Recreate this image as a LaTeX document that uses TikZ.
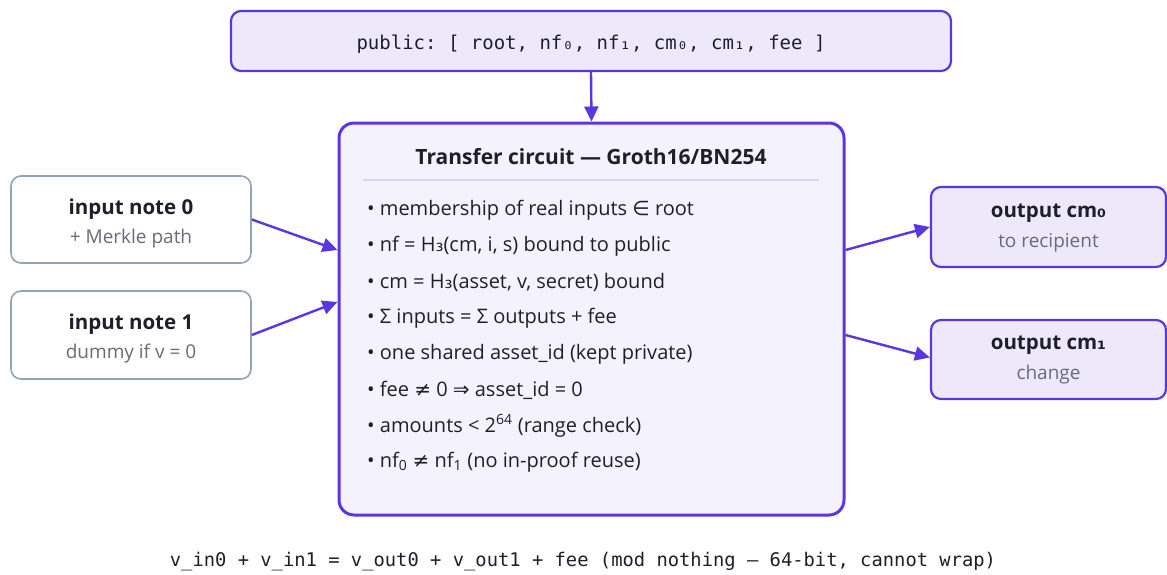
\documentclass[tikz,border=0pt]{standalone}
\usepackage{fontspec}
\setmainfont{Open Sans}
\setmonofont{DejaVu Sans Mono}
\newfontfamily\symfont{DejaVu Sans}
\usetikzlibrary{arrows.meta}
\definecolor{accent}{HTML}{5B35E0}
\definecolor{lav}{HTML}{EDE9FB}
\definecolor{pale}{HTML}{F4F2FD}
\definecolor{ink}{HTML}{1F1F2B}
\definecolor{muted}{HTML}{6B6B78}
\definecolor{slate}{HTML}{94A3B8}
\definecolor{sep}{HTML}{DAD5F5}
\newcommand{\lowsub}[1]{{\symfont #1}}
\tikzset{
  box/.style={rectangle, rounded corners=10pt, line width=2.2pt, draw=accent, fill=lav, inner sep=0pt},
  inbox/.style={rectangle, rounded corners=10pt, line width=1.6pt, draw=slate, fill=white, inner sep=0pt},
  bigbox/.style={rectangle, rounded corners=15pt, line width=3pt, draw=accent, fill=pale, inner sep=0pt},
  flow/.style={-{Triangle[length=15pt,width=14pt]}, line width=2.4pt, draw=accent},
  head/.style={font=\fontsize{20.5}{24}\selectfont\bfseries, text=ink, inner sep=0pt},
  ttl/.style={font=\fontsize{21}{24}\selectfont\bfseries, text=ink, inner sep=0pt},
  sub/.style={font=\fontsize{19}{22}\selectfont, text=muted, inner sep=0pt},
  item/.style={font=\fontsize{20}{23}\selectfont, text=ink, anchor=west, inner sep=0pt},
  code/.style={font=\ttfamily\fontsize{19}{22}\selectfont, text=ink, inner sep=0pt},
}
\begin{document}
\begin{tikzpicture}[x=1pt, y=-1pt]
\useasboundingbox (0,0) rectangle (1167,574);

% public inputs
\node[box, minimum width=720pt, minimum height=60pt] (pub) at (591,41) {};
\node[code] (pubtxt) at (591,44) {public: [ root, nf₀, nf₁, cm₀, cm₁, fee ]};

% the circuit
\node[bigbox, minimum width=505pt, minimum height=392pt] (circ) at (591.5,319) {};
\node[ttl] (title) at (591,157) {Transfer circuit — Groth16/BN254};
\coordinate (sepL) at (363,180);
\coordinate (sepR) at (819,180);
\draw[sep, line width=1.5pt] (sepL) -- (sepR);

\node[item] (c1) at (367,210) {• membership of real inputs {\symfont ∈} root};
\node[item] (c2) at (367,246) {• nf = H\lowsub{₃}(cm, i, s) bound to public};
\node[item] (c3) at (367,282) {• cm = H\lowsub{₃}(asset, v, secret) bound};
\node[item] (c4) at (367,318) {• Σ inputs = Σ outputs + fee};
\node[item] (c5) at (367,354) {• one shared asset\_id (kept private)};
\node[item] (c6) at (367,390) {• fee {\symfont ≠} 0 {\symfont ⇒} asset\_id = 0};
\node[item] (c7) at (367,426) {• amounts < 2\textsuperscript{64} (range check)};
\node[item] (c8) at (367,462) {• nf\textsubscript{0} {\symfont ≠} nf\textsubscript{1} (no in-proof reuse)};

% input notes
\node[inbox, minimum width=240pt, minimum height=87pt] (in0) at (131,219.5) {};
\node[head] (in0h) at (131,209) {input note 0};
\node[sub] (in0s) at (131,239) {+ Merkle path};
\node[inbox, minimum width=240pt, minimum height=88pt] (in1) at (131,335) {};
\node[head] (in1h) at (131,324) {input note 1};
\node[sub] (in1s) at (131,354) {dummy if v = 0};

% output commitments
\node[box, minimum width=235pt, minimum height=80pt] (out0) at (1048.5,227) {};
\node[head] (out0h) at (1048.5,213) {output cm\lowsub{₀}};
\node[sub] (out0s) at (1048.5,243) {to recipient};
\node[box, minimum width=235pt, minimum height=79pt] (out1) at (1048.5,359.5) {};
\node[head] (out1h) at (1048.5,345) {output cm\lowsub{₁}};
\node[sub] (out1s) at (1048.5,375) {change};

% connectors
\draw[flow] (pub.south) -- (circ.north);
\draw[flow] (in0.east) -- ([yshift=69pt]circ.west);
\draw[flow] (in1.east) -- ([yshift=17pt]circ.west);
\draw[flow] ([yshift=69pt]circ.east) -- (out0.west);
\draw[flow] ([yshift=-16pt]circ.east) -- ([yshift=2pt]out1.west);

% balance equation
\node[code, font=\ttfamily\fontsize{18.8}{22}\selectfont] (eq) at (583,562) {v\_in0 + v\_in1 = v\_out0 + v\_out1 + fee (mod nothing — 64-bit, cannot wrap)};
\end{tikzpicture}
\end{document}
